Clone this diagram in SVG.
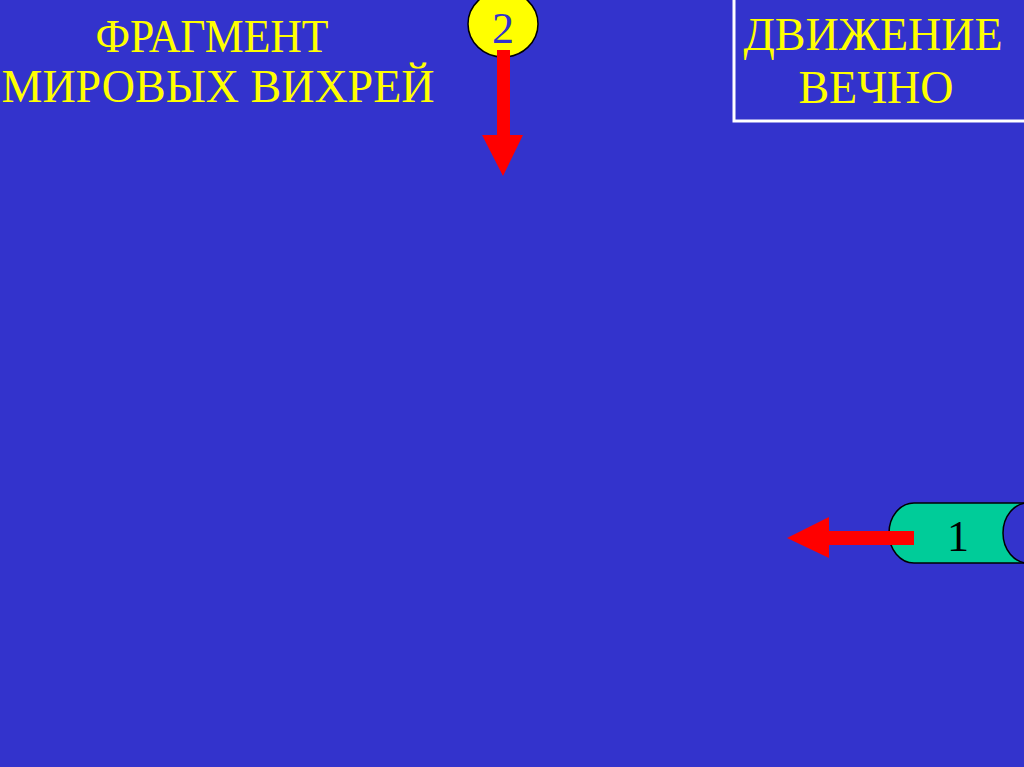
<svg xmlns="http://www.w3.org/2000/svg" width="1024" height="767" viewBox="0 0 1024 767">
<style>
.t{font-family:"Liberation Serif","Times New Roman",serif;fill:#FFFF00;font-size:46px;text-anchor:middle}
.n{font-family:"Liberation Serif","Times New Roman",serif;font-size:44px;text-anchor:middle}
.arrow{fill:#FF0000}
</style>
<rect width="1024" height="767" fill="#3333CC"/>
<g id="title">
<text class="t" x="212" y="52" textLength="233" lengthAdjust="spacingAndGlyphs">ФРАГМЕНТ</text>
<text class="t" x="218" y="102">МИРОВЫХ ВИХРЕЙ</text>
</g>
<g id="box">
<rect x="734" y="-5" width="300" height="126" fill="none" stroke="#FFFFFF" stroke-width="3"/>
<text class="t" x="873" y="50">ДВИЖЕНИЕ</text>
<text class="t" x="876" y="103">ВЕЧНО</text>
</g>
<g id="node2">
<ellipse cx="503" cy="24" rx="35" ry="33" fill="#FFFF00" stroke="#000" stroke-width="1.5"/>
<text class="n" x="503" y="43" fill="#3333CC">2</text>
</g>
<g id="node1">
<path d="M1024,503 L914,503 A25,30 0 0 0 914,563 L1024,563 Z" fill="#00CC99" stroke="#000" stroke-width="1.5"/>
<ellipse cx="1028" cy="533" rx="25" ry="30" fill="#3333CC" stroke="#000" stroke-width="1.5"/>
<text class="n" x="958" y="551" fill="#000">1</text>
</g>
<g id="connectors">
<path class="arrow" d="M497,50 L510,50 L510,135 L523,135 L503,176 L482,135 L497,135 Z"/>
<path class="arrow" d="M914,531 L914,545 L829,545 L829,558 L787,538 L829,517 L829,531 Z"/>
</g>
</svg>
